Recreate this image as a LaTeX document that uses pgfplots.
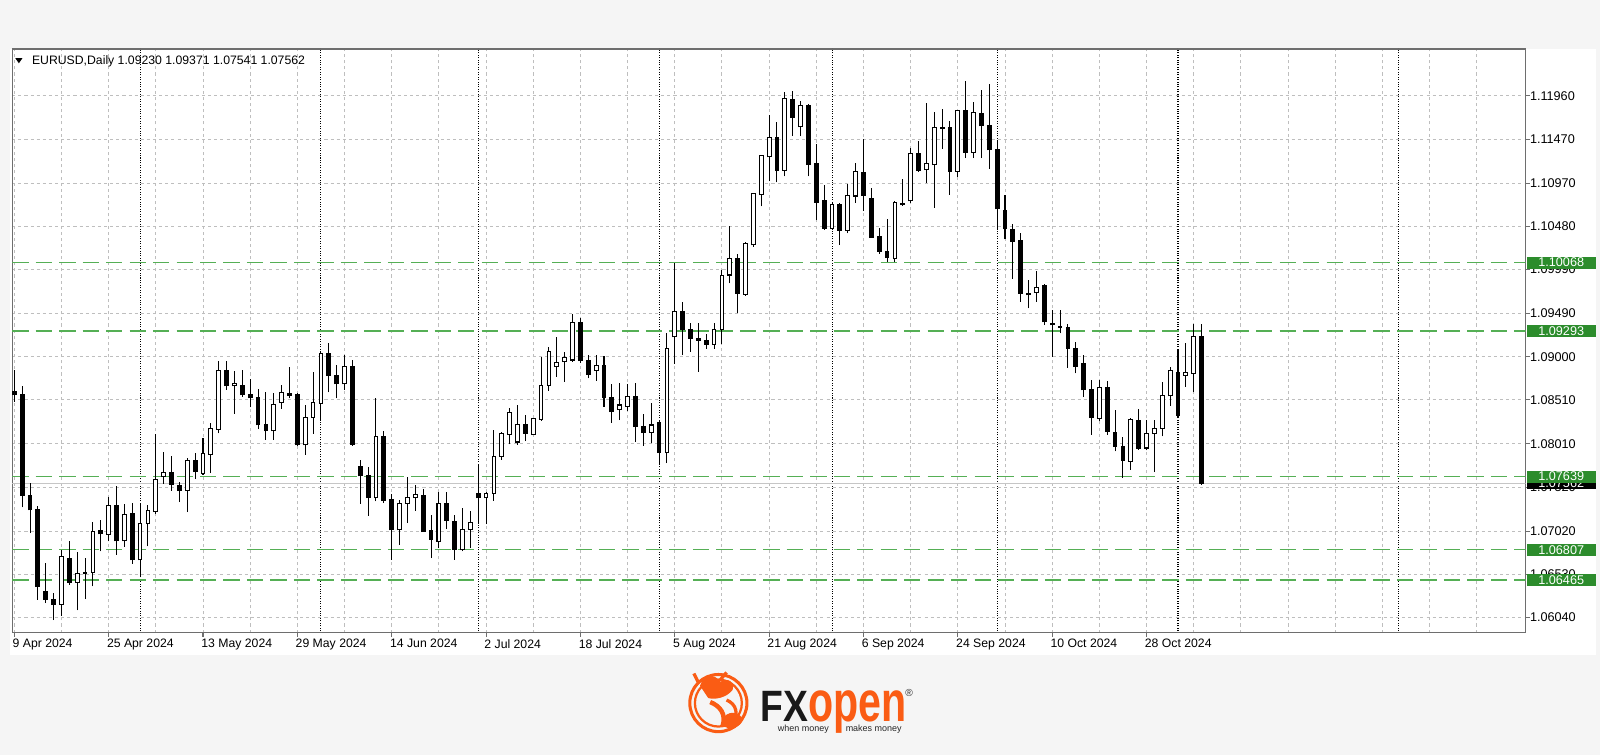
\documentclass[border=0pt]{standalone}
\usepackage{fontspec}
\setmainfont{Liberation Sans}
\usepackage{pgfplots}
\pgfplotsset{compat=1.18}
\usepackage{pgfplotstable}
\definecolor{bgc}{RGB}{245,245,245}
\definecolor{gridc}{RGB}{190,190,190}
\definecolor{lvl}{RGB}{85,175,85}
\definecolor{tagc}{RGB}{44,140,44}
\definecolor{fxo}{RGB}{250,92,20}
\definecolor{axc}{RGB}{110,110,110}
\newcommand\hdrfont{\fontsize{6}{7}\selectfont}
\newcommand\lblfont{\fontsize{6.2}{7}\selectfont}

\pgfplotstableread{
i O H L C
0 1.08600 1.08850 1.08490 1.08570
1 1.08565 1.08667 1.07288 1.07424
2 1.07424 1.07571 1.06996 1.07261
3 1.07261 1.07310 1.06240 1.06392
4 1.06335 1.06656 1.06203 1.06248
5 1.06248 1.06316 1.06010 1.06191
6 1.06191 1.06800 1.06060 1.06732
7 1.06713 1.06909 1.06410 1.06437
8 1.06437 1.06781 1.06119 1.06543
9 1.06535 1.06713 1.06248 1.06545
10 1.06554 1.07121 1.06392 1.07015
11 1.07023 1.07148 1.06789 1.06989
12 1.06985 1.07401 1.06902 1.07306
13 1.07306 1.07533 1.06751 1.06909
14 1.06909 1.07330 1.06840 1.07212
15 1.07216 1.07344 1.06650 1.06694
16 1.06694 1.07329 1.06500 1.07102
17 1.07110 1.07318 1.06845 1.07250
18 1.07242 1.08123 1.07216 1.07609
19 1.07639 1.07915 1.07556 1.07684
20 1.07688 1.07877 1.07480 1.07552
21 1.07537 1.07582 1.07348 1.07480
22 1.07480 1.07847 1.07235 1.07820
23 1.07820 1.07904 1.07609 1.07696
24 1.07677 1.08074 1.07658 1.07904
25 1.07892 1.08251 1.07677 1.08187
26 1.08176 1.08954 1.08130 1.08841
27 1.08841 1.08954 1.08622 1.08667
28 1.08667 1.08841 1.08350 1.08697
29 1.08667 1.08849 1.08546 1.08565
30 1.08565 1.08747 1.08425 1.08535
31 1.08535 1.08633 1.08176 1.08225
32 1.08225 1.08603 1.08055 1.08157
33 1.08157 1.08584 1.08055 1.08459
34 1.08478 1.08679 1.08406 1.08592
35 1.08576 1.08886 1.08530 1.08561
36 1.08565 1.08592 1.07980 1.07998
37 1.07998 1.08452 1.07885 1.08312
38 1.08312 1.08830 1.08123 1.08478
39 1.08471 1.09050 1.08282 1.09038
40 1.09030 1.09159 1.08595 1.08784
41 1.08784 1.08909 1.08527 1.08690
42 1.08690 1.09019 1.08622 1.08886
43 1.08886 1.08962 1.07990 1.08006
44 1.07752 1.07828 1.07329 1.07647
45 1.07647 1.07745 1.07193 1.07401
46 1.07405 1.08527 1.07356 1.08093
47 1.08093 1.08161 1.07337 1.07367
48 1.07374 1.07442 1.06694 1.07034
49 1.07034 1.07374 1.06864 1.07337
50 1.07337 1.07631 1.07110 1.07401
51 1.07401 1.07544 1.07253 1.07431
52 1.07420 1.07495 1.07010 1.07015
53 1.07023 1.07204 1.06713 1.06928
54 1.06902 1.07469 1.06826 1.07337
55 1.07329 1.07469 1.07042 1.07140
56 1.07129 1.07204 1.06694 1.06815
57 1.06807 1.07280 1.06789 1.07042
58 1.07042 1.07253 1.06826 1.07117
59 1.07442 1.07765 1.07100 1.07396
60 1.07396 1.07460 1.07099 1.07449
61 1.07449 1.08171 1.07365 1.07871
62 1.07867 1.08145 1.07829 1.08126
63 1.08118 1.08422 1.08004 1.08362
64 1.08031 1.08449 1.08000 1.08232
65 1.08232 1.08335 1.08042 1.08133
66 1.08118 1.08300 1.08110 1.08297
67 1.08289 1.09000 1.08270 1.08677
68 1.08677 1.09114 1.08612 1.09057
69 1.08886 1.09228 1.08772 1.08936
70 1.08943 1.09057 1.08715 1.08989
71 1.08962 1.09487 1.08943 1.09388
72 1.09388 1.09440 1.08930 1.08955
73 1.08955 1.09019 1.08753 1.08803
74 1.08847 1.09018 1.08726 1.08904
75 1.08897 1.09006 1.08432 1.08534
76 1.08534 1.08685 1.08250 1.08375
77 1.08401 1.08696 1.08280 1.08451
78 1.08439 1.08689 1.08386 1.08545
79 1.08545 1.08696 1.08035 1.08205
80 1.08212 1.08348 1.07986 1.08137
81 1.08137 1.08477 1.08016 1.08224
82 1.08254 1.08280 1.07770 1.07910
83 1.07910 1.09263 1.07790 1.09093
84 1.09225 1.10060 1.08920 1.09509
85 1.09509 1.09622 1.09017 1.09309
86 1.09309 1.09377 1.09055 1.09207
87 1.09207 1.09377 1.08829 1.09188
88 1.09179 1.09255 1.09092 1.09141
89 1.09141 1.09377 1.09092 1.09308
90 1.09308 1.09984 1.09141 1.09920
91 1.09927 1.10478 1.09832 1.10110
92 1.10117 1.10167 1.09491 1.09718
93 1.09711 1.10300 1.09690 1.10288
94 1.10269 1.10860 1.10250 1.10847
95 1.10839 1.11295 1.10706 1.11288
96 1.11268 1.11740 1.10991 1.11485
97 1.11485 1.11664 1.10980 1.11117
98 1.11117 1.12005 1.11048 1.11933
99 1.11914 1.12017 1.11504 1.11713
100 1.11610 1.11903 1.11504 1.11846
101 1.11846 1.11865 1.11048 1.11181
102 1.11190 1.11409 1.10554 1.10752
103 1.10768 1.10948 1.10438 1.10460
104 1.10460 1.10749 1.10438 1.10730
105 1.10730 1.10750 1.10273 1.10438
106 1.10430 1.10955 1.10400 1.10831
107 1.10824 1.11199 1.10749 1.11098
108 1.11086 1.11473 1.10655 1.10835
109 1.10798 1.10910 1.10350 1.10355
110 1.10366 1.10460 1.10168 1.10198
111 1.10198 1.10561 1.10074 1.10123
112 1.10111 1.10770 1.10070 1.10749
113 1.10737 1.11022 1.10711 1.10722
114 1.10768 1.11367 1.10750 1.11311
115 1.11311 1.11450 1.11100 1.11112
116 1.11124 1.11885 1.10974 1.11188
117 1.11180 1.11783 1.10693 1.11606
118 1.11602 1.11809 1.11361 1.11594
119 1.11606 1.11670 1.10840 1.11104
120 1.11104 1.11800 1.11040 1.11790
121 1.11790 1.12133 1.11255 1.11323
122 1.11323 1.11888 1.11255 1.11771
123 1.11764 1.12028 1.11255 1.11621
124 1.11621 1.12096 1.11134 1.11349
125 1.11349 1.11444 1.10452 1.10678
126 1.10663 1.10840 1.10331 1.10452
127 1.10444 1.10501 1.09886 1.10313
128 1.10313 1.10407 1.09623 1.09721
129 1.09717 1.09871 1.09547 1.09702
130 1.09728 1.09973 1.09623 1.09785
131 1.09804 1.09822 1.09359 1.09396
132 1.09377 1.09528 1.09000 1.09362
133 1.09332 1.09535 1.09264 1.09347
134 1.09328 1.09369 1.08875 1.09094
135 1.09094 1.09170 1.08811 1.08894
136 1.08917 1.09019 1.08540 1.08623
137 1.08623 1.08736 1.08114 1.08314
138 1.08302 1.08736 1.08265 1.08653
139 1.08653 1.08725 1.08114 1.08152
140 1.08140 1.08389 1.07926 1.07982
141 1.07982 1.08088 1.07624 1.07824
142 1.07812 1.08303 1.07718 1.08284
143 1.08276 1.08404 1.07944 1.07963
144 1.07963 1.08276 1.07937 1.08125
145 1.08133 1.08276 1.07688 1.08189
146 1.08189 1.08717 1.08095 1.08559
147 1.08555 1.08879 1.08442 1.08842
148 1.08819 1.09083 1.08320 1.08333
149 1.08790 1.09158 1.08660 1.08820
150 1.08810 1.09371 1.08600 1.09230
151 1.09230 1.09371 1.07541 1.07562
}\candles

\begin{document}
\begin{tikzpicture}[x=0.5pt,y=-0.5pt]
\fill[bgc] (0,0) rectangle (1568,740);
\fill[white] (10,48) rectangle (1564,642);

\begin{axis}[
  at={(6pt,-310pt)}, anchor=south west,
  scale only axis, width=741.5pt, height=286pt,
  xmin=-0.26, xmax=192.2,
  ymin=1.058664, ymax=1.124929,
  axis line style={draw=axc, line width=0.5pt},
  xtick pos=bottom, ytick pos=right,
  tick align=outside,
  major tick length=2pt, minor tick length=0pt,
  tick style={draw=axc, line width=0.5pt},
  xtick={0,12,...,144},
  xticklabels={9 Apr 2024,25 Apr 2024,13 May 2024,29 May 2024,14 Jun 2024,2 Jul 2024,18 Jul 2024,5 Aug 2024,21 Aug 2024,6 Sep 2024,24 Sep 2024,10 Oct 2024,28 Oct 2024},
  minor xtick={6,18,...,138,150,156,...,186},
  ytick={1.1196,1.1147,1.1097,1.1048,1.0999,1.0949,1.0900,1.0851,1.0801,1.0752,1.0702,1.0653,1.0604},
  yticklabels={1.11960,1.11470,1.10970,1.10480,1.09990,1.09490,1.09000,1.08510,1.08010,1.07520,1.07020,1.06530,1.06040},
  xmajorgrids, xminorgrids, ymajorgrids,
  major grid style={draw=gridc, line width=0.45pt, dash pattern=on 1.5pt off 1.5pt},
  minor grid style={draw=gridc, line width=0.45pt, dash pattern=on 1.5pt off 1.5pt},
  xticklabel style={font=\hdrfont, anchor=north west, inner sep=0pt, xshift=-1pt, yshift=-1pt},
  yticklabel style={font=\lblfont, anchor=west, inner sep=0pt, xshift=0pt},
]
% month separators
\pgfplotsinvokeforeach{16,39,59,82,104,125,148,176}{
  \addplot[forget plot, black, line width=0.5pt, dash pattern=on 0.5pt off 0.7pt] coordinates {(#1,1.0580) (#1,1.1260)};
}
% bid line
\addplot[forget plot, gray!45, line width=0.5pt] coordinates {(-1,1.07562) (195,1.07562)};
% horizontal levels
\pgfplotsinvokeforeach{1.10068,1.09293,1.07639,1.06807,1.06465}{
  \addplot[forget plot, lvl, line width=0.65pt, dash pattern=on 8pt off 3.5pt] coordinates {(-0.26,#1) (195,#1)};
}
% wicks
\addplot[forget plot, draw=none, mark=none,
  error bars/.cd, y dir=plus, y explicit, error mark=none,
  error bar style={draw=black, line width=0.5pt}]
  table[x=i, y=L, y error plus expr={\thisrow{H}-\thisrow{L}}] {\candles};
% bodies (outline / black fill)
\addplot[forget plot, draw=none, mark=none,
  error bars/.cd, y dir=plus, y explicit, error mark=none,
  error bar style={draw=black, line width=2.35pt}]
  table[x=i, y expr={min(\thisrow{O},\thisrow{C})-0.000058}, y error plus expr={abs(\thisrow{C}-\thisrow{O})+0.000116}] {\candles};
% white interior of rising candles
\addplot[forget plot, draw=none, mark=none,
  restrict expr to domain={\thisrow{C}-\thisrow{O}}{0.00017:1},
  error bars/.cd, y dir=plus, y explicit, error mark=none,
  error bar style={draw=white, line width=1.35pt}]
  table[x=i, y expr={\thisrow{O}+0.000058}, y error plus expr={\thisrow{C}-\thisrow{O}-0.000116}] {\candles};

\coordinate (T1) at (axis cs:192.2,1.10068);
\coordinate (T2) at (axis cs:192.2,1.09293);
\coordinate (T3) at (axis cs:192.2,1.07639);
\coordinate (T4) at (axis cs:192.2,1.06807);
\coordinate (T5) at (axis cs:192.2,1.06465);
\coordinate (TB) at (axis cs:192.2,1.07562);
\end{axis}

% price tags
\tikzset{tag/.style={anchor=west, xshift=0.3pt, fill=#1, text=white, font=\lblfont, inner xsep=0pt, inner ysep=0pt, minimum width=34pt, minimum height=5.9pt}}
\node[tag=black] at (TB) {1.07562};
\node[tag=tagc] at (T1) {1.10068};
\node[tag=tagc] at (T2) {1.09293};
\node[tag=tagc] at (T3) {1.07639};
\node[tag=tagc] at (T4) {1.06807};
\node[tag=tagc] at (T5) {1.06465};

% header
\fill[black] (15,57) -- (22,57) -- (18.5,62) -- cycle;
\node[anchor=west, inner sep=0pt, font=\hdrfont] at (31,60) {EURUSD,Daily 1.09230 1.09371 1.07541 1.07562};

% logo
\draw[fxo, line width=1.5pt] (704,689) circle[radius=28];
\draw[fxo, line width=1.1pt] (704,689) circle[radius=23];
\fill[fxo] (686,672) .. controls (690,660) and (700,660) .. (706,668)
  .. controls (714,664) and (720,668) .. (718,676)
  .. controls (712,684) and (700,686) .. (694,684) -- cycle;
\draw[fxo, line width=1.6pt] (684,668) -- (680,660);
\draw[fxo, line width=1.6pt] (706,666) -- (712,659);
\draw[fxo, line width=2.2pt] (696,688) .. controls (706,692) and (712,700) .. (708,712);
\draw[fxo, line width=1.6pt] (712,686) .. controls (722,690) and (724,700) .. (718,710);
\fill[fxo] (710,702) .. controls (716,696) and (726,698) .. (728,706)
  .. controls (724,714) and (714,716) .. (710,712) -- cycle;
\node[anchor=base west, inner sep=0pt, text=black!90] at (745,707)
  {\scalebox{0.85}[1]{\fontsize{21.5}{22}\selectfont\bfseries FX}};
\node[anchor=base west, inner sep=0pt, text=fxo] at (792,707)
  {\scalebox{0.72}[1]{\fontsize{28}{29}\selectfont\bfseries open}};
\node[anchor=center, inner sep=0pt, text=black!80] at (891,679) {\fontsize{5}{6}\selectfont ®};
\node[anchor=west, inner sep=0pt, text=black!85] at (762,715) {\fontsize{4.4}{5}\selectfont when money};
\node[anchor=east, inner sep=0pt, text=black!85] at (884,715) {\fontsize{4.4}{5}\selectfont makes money};
\end{tikzpicture}
\end{document}
